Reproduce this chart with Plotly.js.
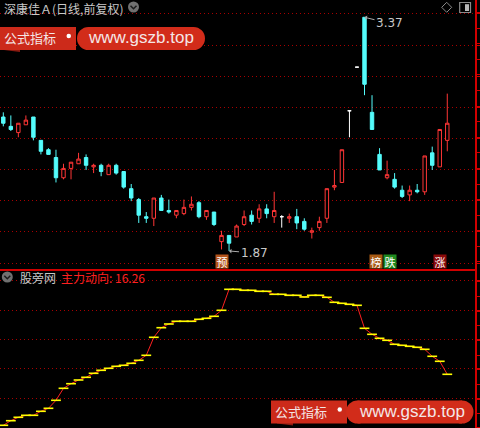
<!DOCTYPE html>
<html><head><meta charset="utf-8">
<script src="https://cdn.plot.ly/plotly-3.0.1.min.js"></script>
<style>html,body{margin:0;padding:0;background:#000;}#chart{width:480px;height:428px;}</style>
</head><body><div id="chart"></div>
<script>
// ---- data ----
const stockTitle = '深康佳Ａ(日线,前复权)';
const panelSource = '股旁网';
const indicatorName = '主力动向';
const openP  = [2.73,2.67,2.63,2.68,2.73,2.58,2.52,2.47,2.34,2.40,2.43,2.47,2.41,2.42,2.36,2.42,2.38,2.27,2.20,2.09,2.08,2.21,2.13,2.10,2.11,2.15,2.18,2.09,2.12,1.93,1.97,1.96,2.04,2.10,2.08,2.14,2.09,2.09,2.08,2.09,2.06,1.99,2.02,2.08,2.28,2.31,2.77,3.05,3.37,2.76,2.49,2.34,2.33,2.26,2.23,2.26,2.25,2.50,2.41,2.58];
const highP  = [2.76,2.74,2.69,2.74,2.73,2.58,2.53,2.52,2.43,2.44,2.50,2.49,2.43,2.43,2.43,2.43,2.38,2.30,2.21,2.12,2.21,2.23,2.20,2.13,2.20,2.22,2.19,2.13,2.12,2.00,1.97,2.04,2.13,2.13,2.17,2.17,2.25,2.10,2.11,2.14,2.08,2.02,2.09,2.27,2.39,2.52,2.77,3.05,3.37,2.87,2.53,2.45,2.37,2.29,2.29,2.30,2.48,2.54,2.65,2.88];
const lowP   = [2.67,2.64,2.60,2.68,2.58,2.49,2.49,2.31,2.33,2.33,2.43,2.39,2.37,2.35,2.36,2.36,2.27,2.19,2.05,2.05,2.03,2.13,2.11,2.08,2.10,2.13,2.08,2.07,2.03,1.88,1.87,1.96,2.03,2.04,2.05,2.08,2.05,2.02,2.05,2.01,2.00,1.95,2.00,2.05,2.26,2.31,2.60,3.05,2.87,2.65,2.39,2.33,2.27,2.21,2.19,2.24,2.23,2.39,2.41,2.51];
const closeP = [2.69,2.65,2.69,2.71,2.60,2.51,2.49,2.34,2.40,2.44,2.46,2.42,2.42,2.38,2.42,2.37,2.28,2.21,2.10,2.08,2.21,2.13,2.12,2.13,2.15,2.17,2.09,2.13,2.04,1.97,1.92,2.03,2.09,2.06,2.14,2.11,2.13,2.09,2.09,2.05,2.01,2.00,2.06,2.27,2.29,2.52,2.77,3.05,2.94,2.65,2.39,2.36,2.28,2.22,2.26,2.25,2.48,2.42,2.65,2.69];
const mainForce = [0.96,2.34,3.36,3.96,3.96,5.16,6.06,8.46,12.06,13.44,14.55,15.36,16.56,17.46,18.06,18.66,18.96,19.56,20.46,21.96,27.36,30.24,31.35,32.16,32.16,32.16,32.76,33.06,33.66,35.46,41.76,41.76,41.46,41.46,41.16,41.16,40.26,40.26,39.96,39.96,39.45,39.96,39.96,39.36,37.86,37.56,37.26,36.96,30.06,28.26,27.06,26.46,25.26,24.96,24.66,24.36,23.76,21.66,20.16,16.26];
const signalText = ['预','榜','跌','涨'];
const signalBar  = [29, 50.5, 50.5, 58];
const watermarkLabel = '公式指标';
const watermarkUrl = 'www.gszb.top';

// ---- styles ----
const RED = '#ff3636', CYAN = '#54fcfc', AXIS = '#d00000', GRID = '#a80000';
const GRAY = '#c8c8c8', FONT = 'Noto Sans CJK SC';
const W = 480, H = 428, R = 5, PW = W - R;
const X = p => p / PW, Y = p => (H - p) / H;

const idx = openP.map((_, i) => i);
const doji = idx.filter(i => openP[i] === closeP[i]);
const body = idx.filter(i => openP[i] !== closeP[i]);
const pick = (a, ids) => ids.map(i => a[i]);

const traces = [
  {type:'candlestick', x: body, open: pick(openP,body), high: pick(highP,body), low: pick(lowP,body), close: pick(closeP,body),
   xaxis:'x', yaxis:'y', whiskerwidth:0, hoverinfo:'skip',
   increasing:{line:{color:RED,width:1}, fillcolor:'#000000'},
   decreasing:{line:{color:CYAN,width:1}, fillcolor:CYAN}},
  {type:'candlestick', x: doji, open: pick(openP,doji), high: pick(highP,doji), low: pick(lowP,doji), close: pick(closeP,doji),
   xaxis:'x', yaxis:'y', whiskerwidth:0, hoverinfo:'skip',
   increasing:{line:{color:'#ffffff',width:1}, fillcolor:'#ffffff'},
   decreasing:{line:{color:'#ffffff',width:1}, fillcolor:'#ffffff'}},
  {type:'scatter', mode:'lines+markers', x: idx, y: mainForce, xaxis:'x2', yaxis:'y2', hoverinfo:'skip',
   line:{color:'#ff2020', width:1},
   marker:{symbol:'line-ew', size:7, color:'#ffff00', line:{color:'#ffff00', width:1.6}}}
];

const xr = [-3.3/7.525, (PW-3.3)/7.525];
const hiIdx = highP.indexOf(Math.max(...highP));
const loIdx = lowP.indexOf(Math.min(...lowP));

const ann = [];
const txt = (x, y, text, font, xanchor) => ({xref:'paper', yref:'paper', x:X(x), y:Y(y), xanchor:xanchor||'left', yanchor:'middle', showarrow:false, text, font});
ann.push(txt(2, 8, stockTitle, {family:FONT, size:12, color:GRAY}));
ann.push(txt(18, 277, panelSource, {family:FONT, size:12, color:GRAY}));
ann.push(txt(59, 277, indicatorName + ': ' + mainForce[mainForce.length-1].toFixed(2), {family:FONT, size:12, color:'#ff2020'}));
ann.push({xref:'x', yref:'y', x:hiIdx, y:highP[hiIdx], text:highP[hiIdx].toFixed(2), showarrow:true, arrowhead:1, arrowsize:0.8,
  arrowwidth:1, arrowcolor:'#aaaaaa', ax:25, ay:6, standoff:0, font:{family:'DejaVu Sans', size:12, color:GRAY}});
ann.push({xref:'x', yref:'y', x:loIdx, y:lowP[loIdx], text:lowP[loIdx].toFixed(2), showarrow:true, arrowhead:1, arrowsize:0.8,
  arrowwidth:1, arrowcolor:'#aaaaaa', ax:25, ay:2, standoff:0, font:{family:'DejaVu Sans', size:12, color:GRAY}});
const sigBg = ['#b4541a','#a85a14','#1f8a1f','#8a0a0a'];
const sigAnchor = ['center','right','left','center'];
signalText.forEach((t, k) => ann.push({xref:'x', yref:'y domain', x:signalBar[k], y:0, xanchor:sigAnchor[k], yanchor:'bottom',
  showarrow:false, text:t, width:12, height:13, borderpad:0, bgcolor:sigBg[k], font:{family:FONT, size:11, color:'#ffffff'}}));
// watermarks
[[0,27],[271,400.5]].forEach(([x0,y0]) => {
  ann.push(txt(x0+30, y0+10.5, watermarkLabel, {family:FONT, size:13, color:'#f4e6e6'}, 'center'));
  ann.push(txt(x0+141, y0+11, watermarkUrl, {family:'Liberation Sans', size:17, color:'#f4e6e6'}, 'center'));
});

const shapes = [];
// title icons
[[133.5,7],[7.3,277]].forEach(([cx,cy]) => {
  shapes.push({type:'circle', xref:'paper', yref:'paper', x0:X(cx-5.5), x1:X(cx+5.5), y0:Y(cy+5.5), y1:Y(cy-5.5), fillcolor:'#707070', line:{width:0}});
  shapes.push({type:'path', xref:'paper', yref:'paper', path:`M${X(cx-3)},${Y(cy-1.2)} L${X(cx)},${Y(cy+1.8)} L${X(cx+3)},${Y(cy-1.2)}`, line:{color:'#1a1a1a', width:1.5}});
});
shapes.push({type:'path', xref:'paper', yref:'paper', path:`M${X(446.7)},${Y(2.3)} L${X(451.7)},${Y(7.3)} L${X(446.7)},${Y(12.3)} L${X(441.7)},${Y(7.3)} Z`, line:{color:'#8a8a8a', width:1}});
shapes.push({type:'rect', xref:'paper', yref:'paper', x0:X(459.7), x1:X(470.5), y0:Y(12.5), y1:Y(2.5), line:{color:'#8a8a8a', width:1.2}});
shapes.push({type:'rect', xref:'paper', yref:'paper', x0:X(465), x1:X(469), y0:Y(11), y1:Y(4.2), fillcolor:'#b8b8b8', line:{width:0}});
// watermark shapes
[[0,27,-2,77,205],[271,400.5,271,346,473.5]].forEach(([x0,y0,fx,p0,p1]) => {
  const h = 23, r = h/2;
  shapes.push({type:'path', xref:'paper', yref:'paper', layer:'below', path:`M${X(fx+6)},${Y(y0+h-3)} L${X(fx+22)},${Y(y0+h-3)} L${X(fx+22)},${Y(y0+h+2)} L${X(fx+6)},${Y(y0+h)} Z`, fillcolor:'#8a1a10', line:{width:0}});
  shapes.push({type:'rect', xref:'paper', yref:'paper', x0:X(fx), x1:X(x0+76), y0:Y(y0+h), y1:Y(y0), fillcolor:'#cc2a1a', line:{width:0}});
  shapes.push({type:'circle', xref:'paper', yref:'paper', x0:X(x0+66.5), x1:X(x0+71), y0:Y(y0+11.3), y1:Y(y0+6.8), fillcolor:'#ffffff', line:{width:0}});
  shapes.push({type:'rect', xref:'paper', yref:'paper', x0:X(p0+r), x1:X(p1-r), y0:Y(y0+h), y1:Y(y0), fillcolor:'#d22c1a', line:{width:0}});
  shapes.push({type:'circle', xref:'paper', yref:'paper', x0:X(p0), x1:X(p0+h), y0:Y(y0+h), y1:Y(y0), fillcolor:'#d22c1a', line:{width:0}});
  shapes.push({type:'circle', xref:'paper', yref:'paper', x0:X(p1-h), x1:X(p1), y0:Y(y0+h), y1:Y(y0), fillcolor:'#d22c1a', line:{width:0}});
});

const yCommon = {side:'right', showline:true, linecolor:AXIS, linewidth:1.5, ticks:'outside', ticklen:3, tickcolor:AXIS, tickwidth:1,
  showgrid:true, gridcolor:GRID, gridwidth:1, griddash:'1px,3px', showticklabels:false, zeroline:false, fixedrange:true};
const layout = {
  width:W, height:H, margin:{l:0, r:R, t:0, b:0, pad:0},
  paper_bgcolor:'#000000', plot_bgcolor:'#000000', showlegend:false, boxgap:0.35,
  xaxis:{domain:[0,1], range:xr, anchor:'y', showgrid:false, zeroline:false, showticklabels:false, ticks:'',
    showline:true, linecolor:AXIS, linewidth:1.5, rangeslider:{visible:false}, fixedrange:true},
  xaxis2:{domain:[0,1], range:xr, anchor:'y2', showgrid:false, zeroline:false, showticklabels:false, ticks:'', showline:false, fixedrange:true},
  yaxis: Object.assign({}, yCommon, {domain:[159/428,1], range:[1.7544,3.4810], anchor:'x', tick0:1.992, dtick:0.2,
    minor:{dtick:0.1, ticks:'outside', ticklen:3, tickcolor:AXIS, showgrid:false}}),
  yaxis2: Object.assign({}, yCommon, {domain:[0,158/428], range:[0.15,47.55], anchor:'x2', tick0:9.06, dtick:8.8,
    minor:{dtick:4.4, ticks:'outside', ticklen:3, tickcolor:AXIS, showgrid:false}}),
  annotations: ann, shapes: shapes
};
Plotly.newPlot('chart', traces, layout, {staticPlot:true, displayModeBar:false});
</script></body></html>
